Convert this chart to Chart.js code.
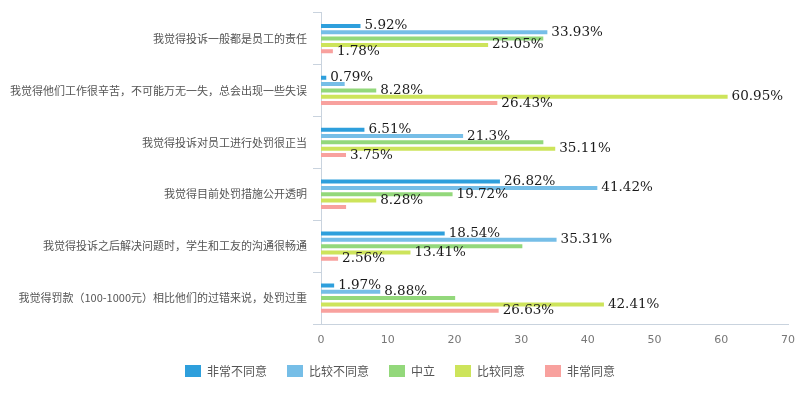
<!DOCTYPE html>
<html>
<head>
<meta charset="utf-8">
<script src="https://cdn.jsdelivr.net/npm/chart.js@4"></script>
<style>
html,body{margin:0;padding:0;background:#fff;}
#wrap{width:800px;height:400px;position:relative;}
</style>
</head>
<body>
<div id="wrap"><canvas id="c"></canvas></div>
<script>
const categories = [
  "我觉得投诉一般都是员工的责任",
  "我觉得他们工作很辛苦，不可能万无一失，总会出现一些失误",
  "我觉得投诉对员工进行处罚很正当",
  "我觉得目前处罚措施公开透明",
  "我觉得投诉之后解决问题时，学生和工友的沟通很畅通",
  "我觉得罚款（100-1000元）相比他们的过错来说，处罚过重"
];
const seriesNames = ["非常不同意", "比较不同意", "中立", "比较同意", "非常同意"];
const stronglyDisagree = [5.92, 0.79, 6.51, 26.82, 18.54, 1.97];
const disagree = [33.93, 3.55, 21.3, 41.42, 35.31, 8.88];
const neutral = [33.32, 8.28, 33.33, 19.72, 30.18, 20.11];
const agree = [25.05, 60.95, 35.11, 8.28, 13.41, 42.41];
const stronglyAgree = [1.78, 26.43, 3.75, 3.76, 2.56, 26.63];
const xTicks = [0, 10, 20, 30, 40, 50, 60, 70];
// which value labels are visible (others hidden by overlap in the original)
const labelShown = [
  [1,1,1,1,1,1],
  [1,0,1,1,1,1],
  [0,1,0,1,0,0],
  [1,1,1,1,1,1],
  [1,1,1,0,1,1]
];

const colors = ["#2e9fdc", "#76bee7", "#93d87b", "#cde45b", "#f8a19e"];
const seriesValues = [stronglyDisagree, disagree, neutral, agree, stronglyAgree];

const valueLabels = {
  id: 'valueLabels',
  afterDatasetsDraw(chart) {
    const ctx = chart.ctx;
    ctx.save();
    ctx.font = '13.5px "DejaVu Serif"';
    ctx.fillStyle = '#1a1a1a';
    ctx.textBaseline = 'middle';
    ctx.textAlign = 'left';
    chart.data.datasets.forEach((ds, di) => {
      const meta = chart.getDatasetMeta(di);
      meta.data.forEach((el, i) => {
        if (!labelShown[di][i]) return;
        ctx.fillText(ds.data[i] + '%', el.x + 4, el.y);
      });
    });
    ctx.restore();
  }
};

new Chart(document.getElementById('c'), {
  type: 'bar',
  data: {
    labels: categories,
    datasets: seriesNames.map((n, i) => ({
      label: n,
      data: seriesValues[i],
      backgroundColor: colors[i],
      borderWidth: 0,
      categoryPercentage: 0.61,
      barPercentage: 0.63
    }))
  },
  options: {
    indexAxis: 'y',
    responsive: true,
    maintainAspectRatio: false,
    animation: false,
    devicePixelRatio: 1,
    layout: { padding: { top: 9, right: 0, bottom: 13, left: 0 } },
    plugins: {
      tooltip: { enabled: false },
      legend: {
        position: 'bottom',
        labels: {
          boxWidth: 16,
          boxHeight: 12,
          padding: 20,
          color: '#555',
          font: { size: 12, family: '"Noto Sans CJK SC"' }
        }
      }
    },
    scales: {
      x: {
        min: 0,
        max: 70,
        afterBuildTicks(scale) { scale.ticks = xTicks.map(v => ({ value: v })); },
        grid: { display: false, drawTicks: false },
        border: { display: true, color: '#c9d3de', width: 1 },
        ticks: { color: '#777', padding: 10, font: { size: 11, family: '"DejaVu Sans"' } },
        afterFit(scale) { scale.height = 21; scale.paddingRight = 12; }
      },
      y: {
        grid: { drawOnChartArea: false, drawTicks: true, tickLength: 8, color: '#c9d3de', offset: true },
        border: { display: true, color: '#c9d3de', width: 1 },
        ticks: { color: '#555', padding: 6, font: { size: 11, family: '"Noto Sans CJK SC"' } },
        afterFit(scale) { scale.width = 321; }
      }
    }
  },
  plugins: [valueLabels]
});
</script>
</body>
</html>
